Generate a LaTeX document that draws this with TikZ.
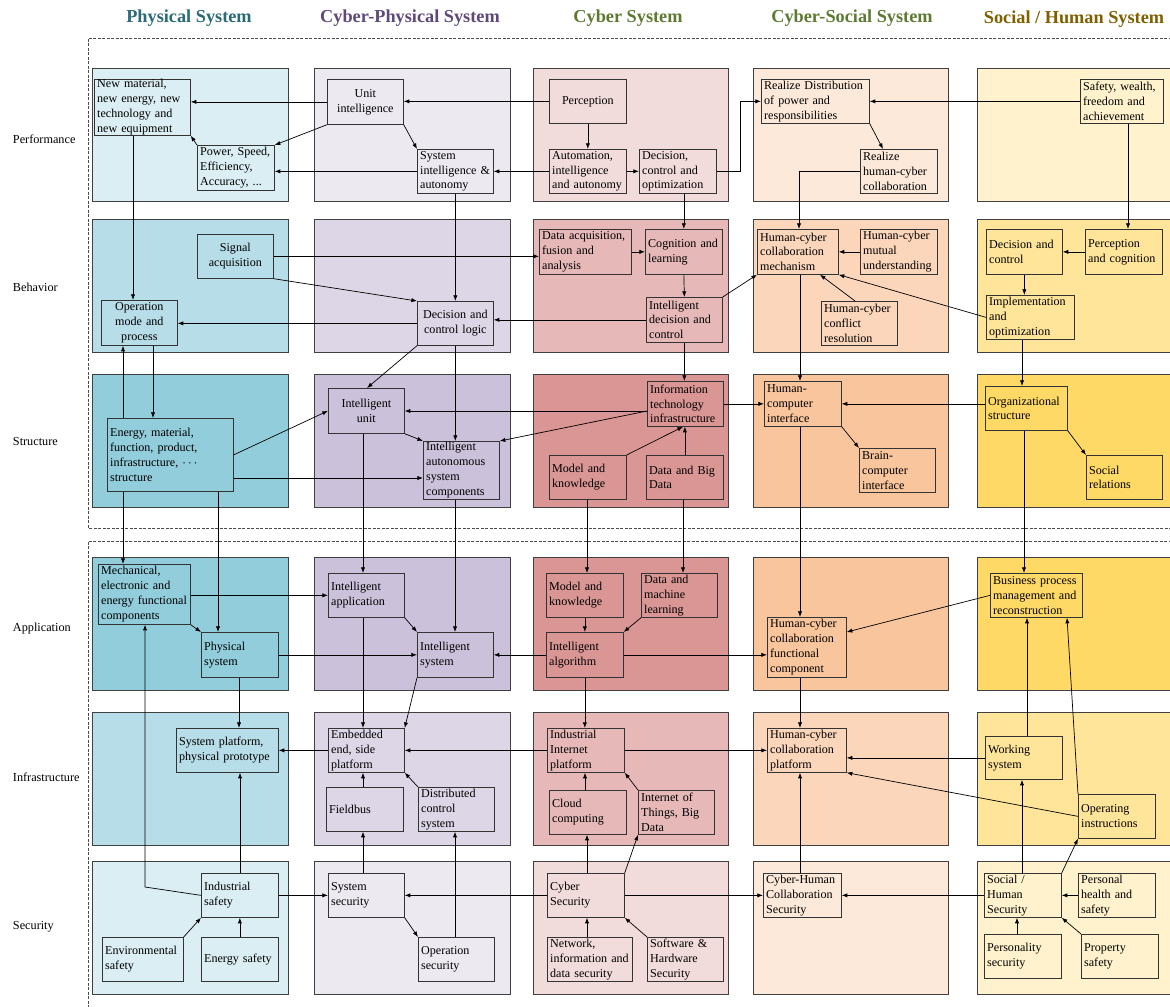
\documentclass[tikz,border=0pt]{standalone}
\usepackage{fontspec}
\setmainfont{Liberation Serif}
\usetikzlibrary{arrows.meta,calc}

\definecolor{phy1}{HTML}{DBEEF3}
\definecolor{phy2}{HTML}{B7DDE8}
\definecolor{phy3}{HTML}{92CDDC}
\definecolor{cph1}{HTML}{EDE9F1}
\definecolor{cph2}{HTML}{DDD6E6}
\definecolor{cph3}{HTML}{CBC1DA}
\definecolor{cyb1}{HTML}{F2DCDB}
\definecolor{cyb2}{HTML}{E6B9B8}
\definecolor{cyb3}{HTML}{D99694}
\definecolor{cso1}{HTML}{FDE9D9}
\definecolor{cso2}{HTML}{FBD6BB}
\definecolor{cso3}{HTML}{F9C59C}
\definecolor{soc1}{HTML}{FFF2CC}
\definecolor{soc2}{HTML}{FFE599}
\definecolor{soc3}{HTML}{FFD966}
\definecolor{hphy}{HTML}{2B6B78}
\definecolor{hcph}{HTML}{5F497A}
\definecolor{hcyb}{HTML}{5E7A32}
\definecolor{hsoc}{HTML}{7F6000}

% block: [options]{name}{x1}{y1}{x2}{y2}{text}, coordinates in pixels
\newcommand{\blk}[7][align=left]{%
  \pgfmathsetmacro{\blkw}{(#5-#3)*0.025}%
  \pgfmathsetmacro{\blkh}{(#6-#4)*0.025}%
  \pgfmathsetmacro{\blkt}{(#5-#3)*0.025-0.14}%
  \node[box,#1,minimum width=\blkw cm,minimum height=\blkh cm,text width=\blkt cm,anchor=north west] (#2) at (#3,#4) {#7};%
}

\begin{document}
\begin{tikzpicture}[x=0.025cm,y=-0.025cm,
  box/.style={draw=black!80,line width=0.5pt,inner xsep=0.07cm,inner ysep=0pt,font=\fontsize{8.6}{10.6}\selectfont},
  panel/.style={draw=black!75,line width=0.6pt},
  arr/.style={-{Latex[length=4pt,width=3pt]},line width=0.5pt},
  head/.style={font=\fontsize{13}{15}\selectfont\bfseries},
  lbl/.style={anchor=west,font=\fontsize{8.7}{10}\selectfont},
  frame/.style={draw=black!70,dash pattern=on 2pt off 1.2pt,line width=0.5pt}]
\useasboundingbox (0,0) rectangle (1170,1006);
\clip (0,0) rectangle (1170,1006);

%\draw[help lines,step=100] (0,0) grid (1170,1006);
\draw[frame] (1185,38) -- (88,38) -- (88,528) -- (1185,528);
\draw[frame] (1185,541) -- (88,541) -- (88,1015);

\foreach \col/\xa/\xb in {phy/92/288,cph/314/510,cyb/533/728,cso/753/948,soc/977/1185}
  \foreach \ya/\yb/\lev in {68/201/1,219/352/2,374/507/3,557/690/3,712/845/2,861/994/1}
    \draw[panel,fill=\col\lev] (\xa,\ya) rectangle (\xb,\yb);

\node[head,text=hphy] (tphy) at (189,18) {Physical System};
\node[head,text=hcph] (tcph) at (410,18) {Cyber-Physical System};
\node[head,text=hcyb] (tcyb) at (628,18) {Cyber System};
\node[head,text=hcyb] (tcso) at (852,18) {Cyber-Social System};
\node[head,text=hsoc] (tsoc) at (1074,19) {Social / Human System};

\node[lbl] (lperf) at (8,139) {Performance};
\node[lbl] (lbeh) at (8,287) {Behavior};
\node[lbl] (lstr) at (8,442) {Structure};
\node[lbl] (lapp) at (8,629) {Application};
\node[lbl] (linf) at (8,777) {Infrastructure};
\node[lbl] (lsec) at (8,927) {Security};

% performance
\blk{newmat}{94}{79}{190}{135}{New material,\\ new energy, new\\ technology and\\ new equipment}
\blk{power}{197}{145}{274}{190}{Power, Speed,\\ Efficiency,\\ Accuracy, ...}
\blk[align=center]{unitint}{327}{79}{403}{124}{Unit\\ intelligence}
\blk{sysint}{417}{149}{493}{193}{System\\ intelligence \&\\ autonomy}
\blk[align=center]{percep}{549}{79}{626}{123}{Perception}
\blk{automat}{549}{149}{626}{193}{Automation,\\ intelligence\\ and autonomy}
\blk{decopt}{639}{149}{716}{193}{Decision,\\ control and\\ optimization}
\blk{distrib}{761}{79}{869}{123}{Realize Distribution\\ of power and\\ responsibilities}
\blk{realhc}{860}{149}{937}{193}{Realize\\ human-cyber\\ collaboration}
\blk{wealth}{1080}{79}{1163}{123}{Safety, wealth,\\ freedom and\\ achievement}

% behavior
\blk[align=center]{signal}{197}{234}{273}{278}{Signal\\ acquisition}
\blk[align=center]{opmode}{101}{300}{177}{345}{Operation\\ mode and\\ process}
\blk[align=center]{declogic}{417}{301}{493}{345}{Decision and\\ control logic}
\blk{dataacq}{539}{229}{631}{274}{Data acquisition,\\ fusion and\\ analysis}
\blk{cognit}{645}{229}{722}{274}{Cognition and\\ learning}
\blk{intdec}{646}{297}{722}{342}{Intelligent\\ decision and\\ control}
\blk{hcmech}{757}{229}{838}{274}{Human-cyber\\ collaboration\\ mechanism}
\blk{hcmutual}{860}{229}{937}{274}{Human-cyber\\ mutual\\ understanding}
\blk{hcconfl}{821}{301}{897}{345}{Human-cyber\\ conflict\\ resolution}
\blk{decctrl}{986}{229}{1062}{274}{Decision and\\ control}
\blk{percog}{1085}{229}{1162}{274}{Perception\\ and cognition}
\blk{implopt}{986}{295}{1074}{339}{Implementation\\ and\\ optimization}

% structure
\blk{energy}{107}{418}{233}{491}{Energy, material,\\ function, product,\\ infrastructure, $\cdots$\\ structure}
\blk[align=center]{intunit}{328}{388}{404}{433}{Intelligent\\ unit}
\blk{intauto}{423}{441}{499}{499}{Intelligent\\ autonomous\\ system\\ components}
\blk{infotech}{647}{381}{723}{426}{Information\\ technology\\ infrastructure}
\blk{modknow}{549}{455}{626}{499}{Model and\\ knowledge}
\blk{databig}{646}{455}{723}{499}{Data and Big\\ Data}
\blk{hci}{764}{381}{841}{426}{Human-\\ computer\\ interface}
\blk{bci}{859}{448}{935}{492}{Brain-\\ computer\\ interface}
\blk{orgstr}{985}{386}{1067}{430}{Organizational\\ structure}
\blk{socrel}{1086}{455}{1162}{499}{Social\\ relations}

% application
\blk{mech}{98}{564}{190}{624}{Mechanical,\\ electronic and\\ energy functional\\ components}
\blk{physsys}{201}{632}{278}{677}{Physical\\ system}
\blk{intapp}{328}{573}{404}{617}{Intelligent\\ application}
\blk{intsys}{417}{632}{493}{677}{Intelligent\\ system}
\blk{modknow2}{546}{573}{623}{617}{Model and\\ knowledge}
\blk{datamach}{641}{573}{717}{617}{Data and\\ machine\\ learning}
\blk{intalg}{546}{632}{623}{677}{Intelligent\\ algorithm}
\blk{hcfunc}{767}{617}{846}{677}{Human-cyber\\ collaboration\\ functional\\ component}
\blk{bpm}{990}{573}{1082}{617}{Business process\\ management and\\ reconstruction}

% infrastructure
\blk{sysplat}{176}{728}{278}{772}{System platform,\\ physical prototype}
\blk{embed}{328}{728}{404}{772}{Embedded\\ end, side\\ platform}
\blk{fieldbus}{326}{787}{403}{831}{Fieldbus}
\blk{dcs}{418}{787}{494}{831}{Distributed\\ control\\ system}
\blk{iip}{547}{728}{624}{772}{Industrial\\ Internet\\ platform}
\blk{cloud}{549}{790}{626}{834}{Cloud\\ computing}
\blk{iot}{638}{790}{714}{834}{Internet of\\ Things, Big\\ Data}
\blk{hcplat}{767}{728}{846}{772}{Human-cyber\\ collaboration\\ platform}
\blk{working}{985}{736}{1062}{779}{Working\\ system}
\blk{opinstr}{1078}{794}{1155}{838}{Operating\\ instructions}

% security
\blk{indsaf}{201}{873}{278}{917}{Industrial\\ safety}
\blk{envsaf}{102}{937}{183}{981}{Environmental\\ safety}
\blk{enersaf}{201}{937}{278}{981}{Energy safety}
\blk{syssec}{328}{873}{404}{917}{System\\ security}
\blk{opsec}{418}{937}{494}{981}{Operation\\ security}
\blk{cybsec}{547}{873}{624}{917}{Cyber\\ Security}
\blk{netsec}{547}{937}{632}{981}{Network,\\ information and\\ data security}
\blk{swhw}{647}{937}{723}{981}{Software \&\\ Hardware\\ Security}
\blk{chcsec}{763}{873}{841}{917}{Cyber-Human\\ Collaboration\\ Security}
\blk{shsec}{984}{873}{1061}{917}{Social /\\ Human\\ Security}
\blk{perhealth}{1078}{873}{1155}{917}{Personal\\ health and\\ safety}
\blk{persec}{984}{934}{1061}{978}{Personality\\ security}
\blk{propsaf}{1081}{934}{1158}{978}{Property\\ safety}

% performance arrows
\draw[arr] (unitint.west) -- (unitint.west -| newmat.east);
\draw[arr] (unitint.south west) -- (power.north east);
\draw[arr] (power.north west) -- (newmat.south east);
\draw[arr] (sysint.west) -- (sysint.west -| power.east);
\draw[arr] (unitint.south east) -- (sysint.north west);
\draw[arr] (percep.west) -- (percep.west -| unitint.east);
\draw[arr] (percep.south) -- (automat.north);
\draw[arr] (automat.west) -- (automat.west -| sysint.east);
\draw[arr] (automat.east) -- (decopt.west);
\draw[arr] (decopt.east) -- ++(24,0) |- (distrib.west);
\draw[arr] (wealth.west) -- (distrib.east);
\draw[arr] (distrib.south east) -- ($(realhc.north west)+(23,0)$);
\draw[arr] (realhc.west) -| ($(hcmech.north west)+(42,0)$);
\draw[arr] (cognit.north |- decopt.south) -- (cognit.north);
\draw[arr] (newmat.south -| 133,0) -- (opmode.north -| 133,0);
\draw[arr] (sysint.south) -- (declogic.north);
\draw[arr] (wealth.south -| 1128,0) -- (percog.north -| 1128,0);

% behavior arrows
\draw[arr] (signal.east) -- (signal.east -| dataacq.west);
\draw[arr] (signal.south east) -- (declogic.north west);
\draw[arr] (declogic.west) -- (declogic.west -| opmode.east);
\draw[arr] (dataacq.east) -- (cognit.west);
\draw[arr] (cognit.south) -- (intdec.north);
\draw[arr] (intdec.west) -- (intdec.west -| declogic.east);
\draw[arr] (intdec.north east) -- (hcmech.south west);
\draw[arr] (hcmutual.west) -- (hcmech.east);
\draw[arr] ($(hcconfl.north west)+(34,0)$) -- ($(hcmech.south west)+(63,0)$);
\draw[arr] (implopt.west) -- (hcmech.south east);
\draw[arr] (percog.west) -- (decctrl.east);
\draw[arr] (decctrl.south) -- (decctrl.south |- implopt.north);
\draw[arr] (opmode.south -| 153,0) -- (energy.north -| 153,0);
\draw[arr] (energy.north -| 123,0) -- (opmode.south -| 123,0);
\draw[arr] (declogic.south west) -- ($(intunit.north west)+(39,0)$);
\draw[arr] (declogic.south) -- (declogic.south |- intauto.north);
\draw[arr] (intdec.south) -- (intdec.south |- infotech.north);
\draw[arr] (hcmech.south -| 800,0) -- (hci.north -| 800,0);
\draw[arr] (implopt.south -| 1022,0) -- (orgstr.north -| 1022,0);

% structure arrows
\coordinate (itw) at (infotech.west |- 0,411);
\draw[arr] (energy.east) -- (intunit.west);
\draw[arr] (energy.east |- 0,478) -- (intauto.west |- 0,478);
\draw[arr] (intunit.south east) -- (intauto.north west);
\draw[arr] (itw) -- (itw -| intunit.east);
\draw[arr] (itw) -- (intauto.north east);
\draw[arr] (modknow.north east) -- ($(infotech.south west)+(36,0)$);
\draw[arr] (databig.north) -- (databig.north |- infotech.south);
\draw[arr] (infotech.east) -- (infotech.east -| hci.west);
\draw[arr] (orgstr.west |- hci.east) -- (hci.east);
\draw[arr] (hci.south east) -- (bci.north west);
\draw[arr] (orgstr.south east) -- (socrel.north west);

% structure to application
\draw[arr] (energy.south -| 123,0) -- (mech.north -| 123,0);
\draw[arr] (energy.south -| 218,0) -- (physsys.north -| 218,0);
\draw[arr] (intunit.south -| 363,0) -- (intapp.north -| 363,0);
\draw[arr] (intauto.south -| 455,0) -- (intsys.north -| 455,0);
\draw[arr] (modknow.south -| 587,0) -- (modknow2.north -| 587,0);
\draw[arr] (databig.south -| 683,0) -- (datamach.north -| 683,0);
\draw[arr] (hci.south -| 800,0) -- (hcfunc.north -| 800,0);
\draw[arr] (orgstr.south -| 1024,0) -- (bpm.north -| 1024,0);

% application arrows
\draw[arr] (mech.east |- intapp.west) -- (intapp.west);
\draw[arr] (mech.south east) -- (physsys.north west);
\draw[arr] (physsys.east) -- (physsys.east -| intsys.west);
\draw[arr] (intapp.south east) -- (intsys.north west);
\draw[arr] (intalg.west) -- (intalg.west -| intsys.east);
\draw[arr] (intalg.east) -- (intalg.east -| hcfunc.west);
\draw[arr] (modknow2.south) -- (modknow2.south |- intalg.north);
\draw[arr] (datamach.south west) -- (intalg.north east);
\draw[arr] (bpm.west) -- ($(hcfunc.north east)+(0,15)$);
\draw[arr] (intapp.south -| 363,0) -- (embed.north -| 363,0);
\draw[arr] (intsys.south west) -- (embed.north east);
\draw[arr] (physsys.south -| 239,0) -- (sysplat.north -| 239,0);
\draw[arr] (intalg.south) -- (intalg.south |- iip.north);
\draw[arr] (hcfunc.south -| 800,0) -- (hcplat.north -| 800,0);
\draw[arr] (working.north -| 1027,0) -- (bpm.south -| 1027,0);
\draw[arr] (opinstr.north west) -- ($(bpm.south west)+(77,0)$);

% infrastructure arrows
\coordinate (kink) at (145,887);
\draw[arr] (embed.west) -- (embed.west -| sysplat.east);
\draw[arr] (iip.west) -- (iip.west -| embed.east);
\draw[arr] (iip.east) -- (iip.east -| hcplat.west);
\draw[arr] (working.west) -- (working.west -| hcplat.east);
\draw[arr] (opinstr.west) -- (hcplat.south east);
\draw[arr] (fieldbus.north -| 363,0) -- (embed.south -| 363,0);
\draw[arr] (dcs.north west) -- (embed.south east);
\draw[arr] (cloud.north -| 585,0) -- (iip.south -| 585,0);
\draw[arr] (iot.north west) -- (iip.south east);
\draw[arr] (indsaf.north -| 240,0) -- (sysplat.south -| 240,0);
\draw[arr] (indsaf.west) -- (kink) -- (mech.south -| kink);
\draw[arr] (syssec.north -| 363,0) -- (fieldbus.south -| 363,0);
\draw[arr] (opsec.north -| 455,0) -- (dcs.south -| 455,0);
\draw[arr] (cybsec.north -| 587,0) -- (cloud.south -| 587,0);
\draw[arr] (cybsec.north east) -- (iot.south west);
\draw[arr] (chcsec.north -| 800,0) -- (hcplat.south -| 800,0);
\draw[arr] (shsec.north -| 1022,0) -- (working.south -| 1022,0);
\draw[arr] (shsec.north east) -- (opinstr.south west);

% security arrows
\draw[arr] (envsaf.north east) -- (indsaf.south west);
\draw[arr] (enersaf.north) -- (indsaf.south);
\draw[arr] (indsaf.east) -- (indsaf.east -| syssec.west);
\draw[arr] (cybsec.west) -- (cybsec.west -| syssec.east);
\draw[arr] (syssec.south east) -- (opsec.north west);
\draw[arr] (netsec.north -| 587,0) -- (cybsec.south -| 587,0);
\draw[arr] (swhw.north west) -- (cybsec.south east);
\draw[arr] (cybsec.east) -- (cybsec.east -| chcsec.west);
\draw[arr] (shsec.west) -- (shsec.west -| chcsec.east);
\draw[arr] (perhealth.west) -- (perhealth.west -| shsec.east);
\draw[arr] (persec.north -| 1017,0) -- (shsec.south -| 1017,0);
\draw[arr] (propsaf.north west) -- (shsec.south east);
\end{tikzpicture}
\end{document}
